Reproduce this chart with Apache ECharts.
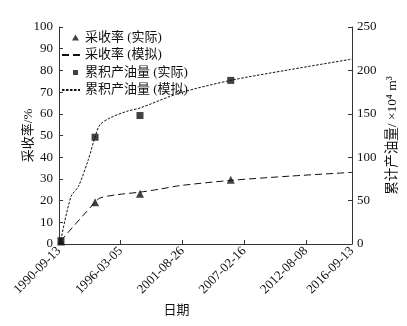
<!DOCTYPE html>
<html>
<head>
<meta charset="utf-8">
<script src="https://cdn.jsdelivr.net/npm/echarts@6/dist/echarts.min.js"></script>
<style>
  html, body { margin: 0; padding: 0; background: #fff; }
  #chart { width: 407px; height: 326px; }
</style>
</head>
<body>
<div id="chart"></div>
<script>
// Time span of the field record
const startDate = '1990-09-13';
const endDate = '2016-09-13';

// Measured points
const actualDates = ['1990-11-15', '1993-11-25', '1997-11-20', '2005-12-10'];
const recoveryActual = [1.2, 19.2, 23.2, 29.6];          // %
const cumulativeActual = [3.8, 123.0, 148.0, 188.5];     // 10^4 m^3

// Model curve: recovery factor
const recoverySimDates = ['1990-11-15', '1991-01-30', '1993-11-22', '1994-05-03', '1995-10-25',
  '1997-11-20', '1999-08-28', '2001-06-06', '2005-12-07', '2011-04-01', '2016-09-13'];
const recoverySim = [1.2, 2.8, 19.2, 21.2, 22.7, 23.9, 25.3, 26.9, 29.3, 31.3, 33.0];

// Model curve: cumulative oil production
const cumulativeSimDates = ['1990-11-15', '1991-10-07', '1992-05-30', '1993-04-19', '1993-11-22',
  '1994-05-03', '1995-03-22', '1996-09-13', '1997-11-20', '2001-06-06', '2005-12-07',
  '2011-04-01', '2016-09-13'];
const cumulativeSim = [5.0, 54.8, 66.0, 97.0, 123.0, 137.4, 145.2, 152.8, 156.7, 174.0, 188.5, 201.0, 213.0];

// Axis ticks
const xTickStepDays = 2000;
const leftTicks = { min: 0, max: 100, step: 10 };
const rightTicks = { min: 0, max: 250, step: 50 };

const DAY = 86400000;
function toUTC(s) { const p = s.split('-').map(Number); return Date.UTC(p[0], p[1] - 1, p[2]); }
const t0 = toUTC(startDate);
function dayIndex(s) { return Math.round((toUTC(s) - t0) / DAY); }
function pad(n) { return (n < 10 ? '0' : '') + n; }
function dayLabel(d) {
  const dt = new Date(t0 + d * DAY);
  return dt.getUTCFullYear() + '-' + pad(dt.getUTCMonth() + 1) + '-' + pad(dt.getUTCDate());
}
function pairs(dates, vals) { return dates.map((d, i) => [dayIndex(d), vals[i]]); }

const serif = "'Liberation Serif', 'Times New Roman', 'Noto Sans CJK SC', serif";
const ink = '#111';
const axisInk = '#333';

// Legend markers sit toward the right end of the 18x12 icon box
const triIcon = 'path://M0,0 M18,12 M13.5,3 L17,9 L10,9 Z';
const sqIcon = 'path://M0,0 M18,12 M11,3.5 L16,3.5 L16,8.5 L11,8.5 Z';

const names = ['采收率 (实际)', '采收率 (模拟)', '累积产油量 (实际)', '累积产油量 (模拟)'];

const chart = echarts.init(document.getElementById('chart'), null, { renderer: 'canvas' });
chart.setOption({
  animation: false,
  backgroundColor: '#fff',
  textStyle: { fontFamily: serif, color: ink },
  grid: { left: 59, right: 55, top: 27, bottom: 82, outerBoundsMode: 'none' },
  legend: {
    orient: 'vertical',
    left: 56, top: 26,
    itemWidth: 18, itemHeight: 12, itemGap: 4.5,
    textStyle: { fontFamily: serif, fontSize: 13, color: ink },
    data: [
      { name: names[0], icon: triIcon },
      { name: names[1], itemStyle: { opacity: 0 } },
      { name: names[2], icon: sqIcon },
      { name: names[3], itemStyle: { opacity: 0 } }
    ]
  },
  xAxis: {
    type: 'value',
    min: 0,
    max: dayIndex(endDate),
    interval: xTickStepDays,
    name: '日期',
    nameLocation: 'middle',
    nameGap: 60,
    nameMoveOverlap: false,
    nameTextStyle: { fontFamily: serif, fontSize: 13, color: ink, padding: [0, 58, 0, 0] },
    axisLine: { lineStyle: { color: axisInk, width: 1 } },
    axisTick: { inside: true, length: 4, lineStyle: { color: axisInk } },
    axisLabel: {
      rotate: 45, margin: 5, fontSize: 13, color: ink, fontFamily: serif,
      showMaxLabel: true, showMinLabel: true,
      formatter: v => dayLabel(v)
    },
    splitLine: { show: false }
  },
  yAxis: [
    {
      type: 'value',
      min: leftTicks.min, max: leftTicks.max, interval: leftTicks.step,
      name: '采收率/%',
      nameLocation: 'middle',
      nameRotate: 90,
      nameGap: 24,
      nameMoveOverlap: false,
      nameTextStyle: { fontFamily: serif, fontSize: 13, color: ink },
      axisLine: { show: true, lineStyle: { color: axisInk, width: 1 } },
      axisTick: { show: true, inside: true, length: 4, lineStyle: { color: axisInk } },
      axisLabel: { margin: 6, fontSize: 13, color: ink, fontFamily: serif },
      splitLine: { show: false }
    },
    {
      type: 'value',
      position: 'right',
      min: rightTicks.min, max: rightTicks.max, interval: rightTicks.step,
      name: '累计产油量/ ×10⁴ m³',
      nameLocation: 'middle',
      nameRotate: 90,
      nameGap: 34,
      nameMoveOverlap: false,
      nameTextStyle: { fontFamily: serif, fontSize: 13.5, color: ink },
      axisLine: { show: true, lineStyle: { color: axisInk, width: 1 } },
      axisTick: { show: true, inside: true, length: 4, lineStyle: { color: axisInk } },
      axisLabel: { margin: 5, fontSize: 13, color: ink, fontFamily: serif },
      splitLine: { show: false }
    }
  ],
  series: [
    {
      name: names[0],
      type: 'scatter',
      yAxisIndex: 0,
      symbol: 'triangle',
      symbolSize: 8,
      itemStyle: { color: ink },
      data: pairs(actualDates, recoveryActual),
      z: 5
    },
    {
      name: names[1],
      type: 'line',
      yAxisIndex: 0,
      showSymbol: false,
      symbol: 'none',
      smooth: 0.3,
      itemStyle: { color: ink },
      lineStyle: { color: ink, width: 1, type: [7, 4] },
      data: pairs(recoverySimDates, recoverySim)
    },
    {
      name: names[2],
      type: 'scatter',
      yAxisIndex: 1,
      symbol: 'rect',
      symbolSize: 7,
      itemStyle: { color: ink },
      data: pairs(actualDates, cumulativeActual),
      z: 5
    },
    {
      name: names[3],
      type: 'line',
      yAxisIndex: 1,
      showSymbol: false,
      symbol: 'none',
      smooth: 0.3,
      itemStyle: { color: ink },
      lineStyle: { color: ink, width: 1, type: [2.5, 1.5] },
      data: pairs(cumulativeSimDates, cumulativeSim)
    }
  ]
});
</script>
</body>
</html>
